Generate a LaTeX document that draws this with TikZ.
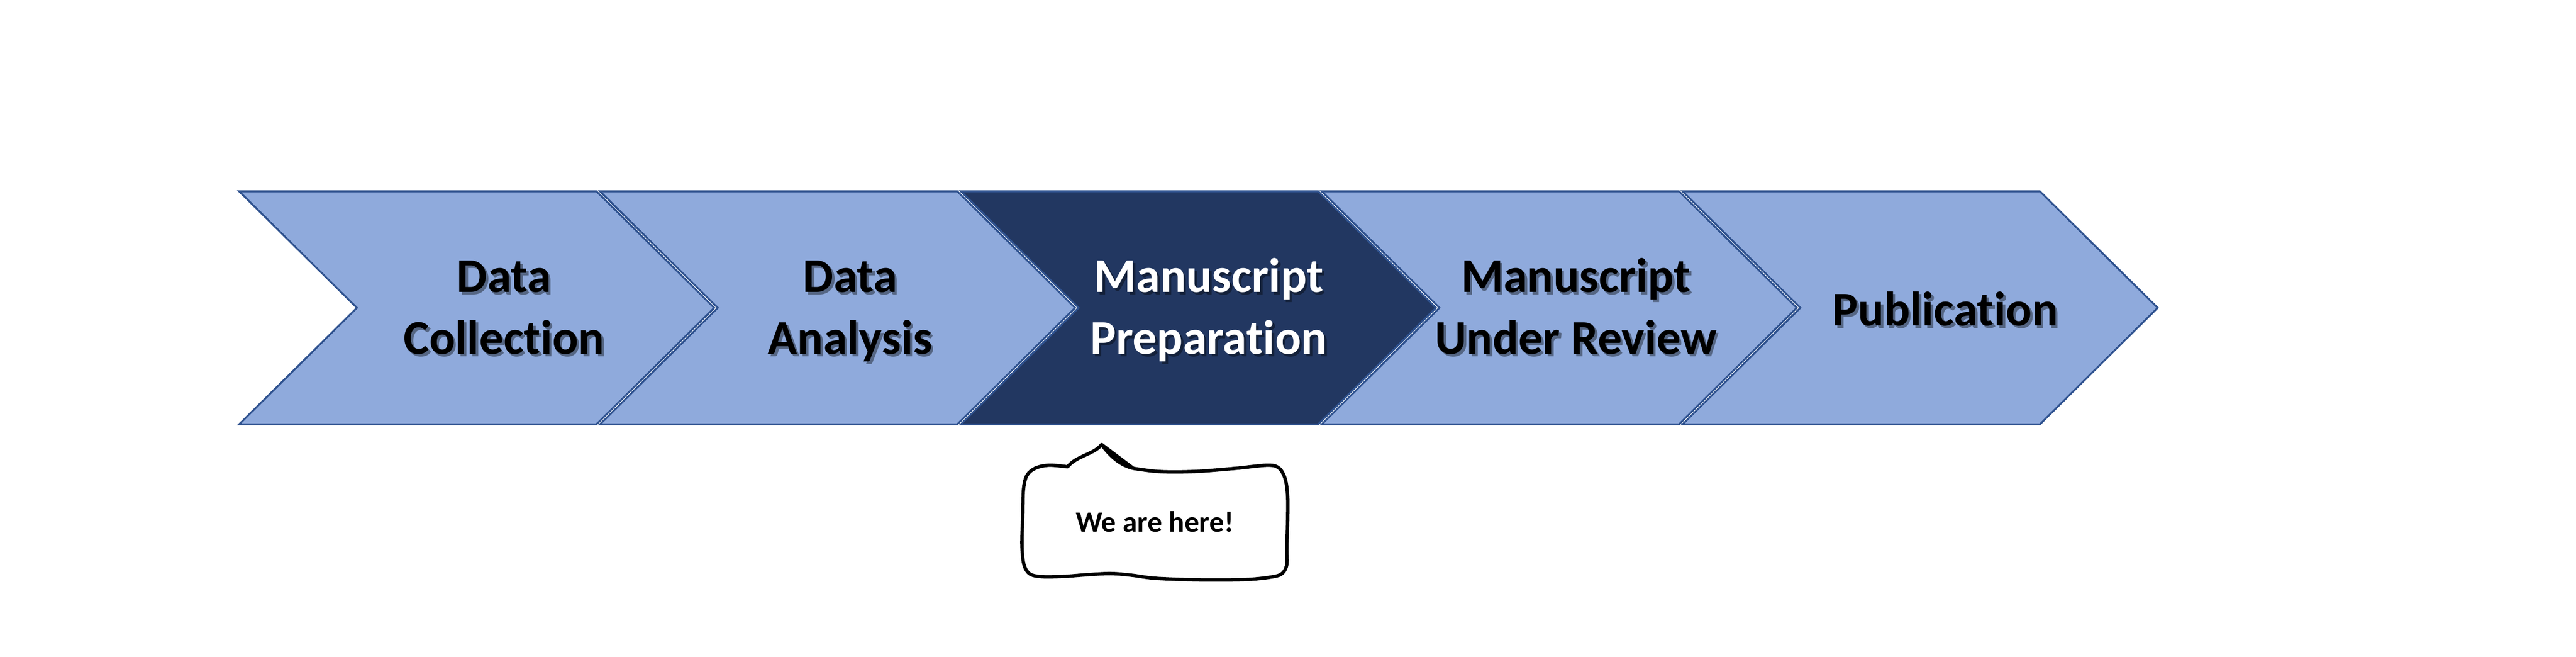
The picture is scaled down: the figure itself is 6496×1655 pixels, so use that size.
\documentclass[tikz,border=0pt]{standalone}
\usepackage{fontspec}
\setmainfont[Ligatures={NoCommon}]{Carlito}
\definecolor{lightfill}{HTML}{8FAADC}
\definecolor{darkfill}{HTML}{223761}
\definecolor{chevline}{HTML}{2F528F}
\tikzset{
  chevshape/.style={draw=chevline, line width=0.46pt, line join=miter},
  labeltext/.style={inner sep=0pt, anchor=south, text depth=0pt, align=center,
    font=\fontsize{12.2}{15.6}\selectfont\bfseries},
  shadowtext/.style={labeltext, text=black, text opacity=0.4},
  bubble/.style={draw=black, line width=0.85pt, fill=white, line join=round},
  bubbletext/.style={inner sep=0pt, anchor=base, font=\fontsize{7.4}{9}\selectfont\bfseries},
}
\newcommand\drawchev[2]{%
  \draw[chevshape, fill=#2] (#1,482) -- ++(901,0) -- ++(297,293.5) -- ++(-297,293.5)
    -- ++(-901,0) -- ++(297,-293.5) -- cycle;}
\begin{document}
\begin{tikzpicture}[x=0.1pt, y=-0.1pt]
\useasboundingbox (0,0) rectangle (6496,1655);
% chevrons
\drawchev{603}{lightfill}
\drawchev{1513}{lightfill}
\drawchev{2423}{darkfill}
\drawchev{3333}{lightfill}
\drawchev{4243}{lightfill}
% labels with shadows
\node[shadowtext] (s1) at (1277,900) {Data\\Collection};
\node[labeltext] (t1) at (1271,894) {Data\\Collection};
\node[shadowtext] (s2) at (2150,900) {Data\\Analysis};
\node[labeltext] (t2) at (2144,894) {Data\\Analysis};
\node[shadowtext] (s3) at (3054,900) {Manuscript\\Preparation};
\node[labeltext, text=white] (t3) at (3048,894) {Manuscript\\Preparation};
\node[shadowtext] (s4) at (3980,900) {Manuscript\\Under Review};
\node[labeltext] (t4) at (3974,894) {Manuscript\\Under Review};
\node[shadowtext] (s5) at (4911,829) {Publication};
\node[labeltext] (t5) at (4905,823) {Publication};
% callout
\coordinate (tip) at (2778,1120);
\draw[bubble] (tip) .. controls (2800,1150) and (2825,1172) .. (2858,1180)
  plot[smooth, tension=0.55] coordinates {(2858,1180) (2910,1187) (2961,1189) (3029,1187)
    (3115,1180) (3198,1172) (3226,1180) (3241,1207) (3247,1250) (3247,1310) (3245,1380)
    (3245,1422) (3234,1444) (3210,1453) (3144,1460) (3029,1461) (2915,1457) (2852,1449)
    (2800,1445) (2740,1448) (2686,1452) (2629,1453) (2597,1446) (2582,1422) (2577,1373)
    (2579,1300) (2581,1232) (2590,1197) (2612,1179) (2646,1172) (2692,1176)}
  .. controls (2715,1148) and (2758,1145) .. (tip) -- cycle;
\node[bubbletext] (here) at (2912,1340) {We are here!};
\end{tikzpicture}
\end{document}
